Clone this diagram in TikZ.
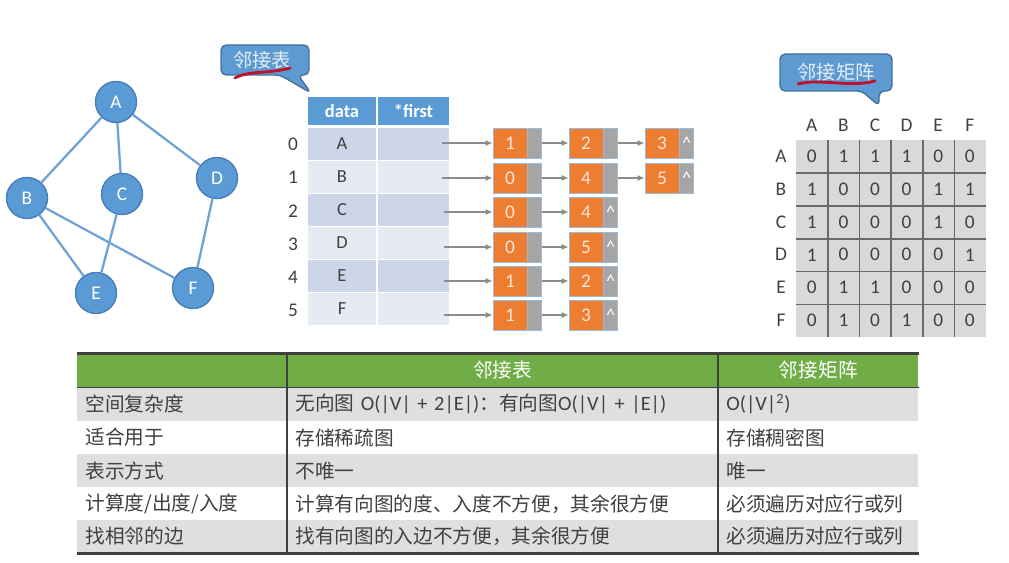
\documentclass[tikz,border=0pt]{standalone}
\usepackage{fontspec}
\setmainfont{Carlito}
\newfontfamily\cjk{Noto Sans CJK SC}
\usepackage{xcolor}
\usetikzlibrary{positioning,arrows.meta}
\definecolor{NodeBlue}{HTML}{5B9BD5}
\definecolor{NodeRim}{HTML}{4A7EBB}
\definecolor{EdgeBlue}{HTML}{6FA3D6}
\definecolor{TagBlue}{HTML}{5E9AD2}
\definecolor{TagRim}{HTML}{41719C}
\definecolor{TagText}{HTML}{E4EEF8}
\definecolor{MarkRed}{HTML}{C0102A}
\definecolor{HeadBlue}{HTML}{5B9BD5}
\definecolor{RowDark}{HTML}{CDD6E8}
\definecolor{RowLight}{HTML}{E6EAF3}
\definecolor{TextDark}{HTML}{404040}
\definecolor{NodeOrange}{HTML}{ED7D31}
\definecolor{NodeGray}{HTML}{A5A5A5}
\definecolor{CellRim}{HTML}{9DB9D8}
\definecolor{NumText}{HTML}{FBE5D6}
\definecolor{LinkGray}{HTML}{8C8C8C}
\definecolor{MatGray}{HTML}{D9D9D9}
\definecolor{GridGray}{HTML}{6A6A6A}
\definecolor{HeadGreen}{HTML}{70AD47}
\definecolor{BandGray}{HTML}{DFDFDF}
\definecolor{RuleDark}{HTML}{404040}

\newcommand{\lat}{\rmfamily\fontsize{11.6pt}{13pt}\selectfont}

\begin{document}
\begin{tikzpicture}[
	x=0.02cm, y=-0.02cm,
	% Graph vertex style
	vertex/.style={
		circle,
		fill=NodeBlue,
		draw=NodeRim,
		thick,
		minimum size=0.82cm,
		inner sep=0pt,
		text=white,
		font=\fontsize{11pt}{13pt}\selectfont
	},
	% Undirected edge style
	gedge/.style={
		draw=EdgeBlue,
		line width=1.3pt
	},
	% Speech bubble labels
	callout/.style={
		fill=TagBlue,
		draw=TagRim,
		line width=0.8pt,
		rounded corners=3pt
	},
	tagtext/.style={
		text=TagText,
		font=\cjk\fontsize{11pt}{13pt}\selectfont
	},
	scribble/.style={
		draw=MarkRed,
		line width=1.6pt,
		line cap=round
	},
	% Vertex table
	hcell/.style={
		fill=HeadBlue,
		draw=white,
		line width=0.8pt,
		minimum height=0.6cm,
		inner sep=0pt,
		text=white,
		font=\bfseries\fontsize{10.5pt}{12pt}\selectfont
	},
	cell/.style={
		draw=white,
		line width=0.8pt,
		minimum height=0.66cm,
		inner sep=0pt,
		text=TextDark,
		font=\fontsize{10.5pt}{12pt}\selectfont
	},
	dark row/.style={fill=RowDark},
	light row/.style={fill=RowLight},
	datacol/.style={minimum width=1.4cm},
	firstcol/.style={minimum width=1.46cm},
	index/.style={
		text=TextDark,
		font=\fontsize{11pt}{13pt}\selectfont
	},
	% Edge list nodes
	lnum/.style={
		fill=NodeOrange,
		draw=CellRim,
		minimum width=0.68cm,
		minimum height=0.6cm,
		inner sep=0pt,
		text=NumText,
		font=\fontsize{11pt}{13pt}\selectfont
	},
	lptr/.style={
		fill=NodeGray,
		draw=CellRim,
		minimum width=0.28cm,
		minimum height=0.6cm,
		inner sep=0pt,
		text=white,
		font=\fontsize{10.5pt}{12pt}\selectfont
	},
	link/.style={
		draw=LinkGray,
		line width=0.8pt,
		-{Latex[length=4pt,width=3.5pt]}
	},
	% Adjacency matrix
	mcell/.style={
		fill=MatGray,
		minimum width=0.632cm,
		minimum height=0.656cm,
		inner sep=0pt,
		text=TextDark,
		font=\fontsize{11pt}{13pt}\selectfont
	},
	mlabel/.style={
		text=TextDark,
		font=\fontsize{11pt}{13pt}\selectfont
	},
	grid/.style={
		draw=GridGray,
		line width=0.9pt
	},
	% Comparison table
	tcell/.style={
		anchor=west,
		minimum height=0.664cm,
		inner xsep=0.16cm,
		inner ysep=0pt,
		align=left,
		text=TextDark,
		font=\cjk\fontsize{11.2pt}{12.5pt}\selectfont
	},
	thead/.style={
		tcell,
		fill=HeadGreen,
		text=white,
		align=center
	},
	band/.style={fill=BandGray},
	plain/.style={fill=white},
	colone/.style={text width=3.88cm},
	coltwo/.style={text width=8.30cm},
	colthree/.style={text width=3.68cm},
	trule/.style={
		draw=RuleDark,
		line width=1.4pt
	},
	tsep/.style={
		draw=RuleDark,
		line width=0.7pt
	}
	]
	
	\useasboundingbox (0,0) rectangle (1009,563);
	
	% ================= GRAPH =================
	\node[vertex] (A) at (116,102) {A};
	\node[vertex] (B) at (27,198) {B};
	\node[vertex] (C) at (122,194) {C};
	\node[vertex] (D) at (217,178) {D};
	\node[vertex] (E) at (96,293) {E};
	\node[vertex] (F) at (193,288) {F};
	
	\draw[gedge] (A) -- (B);
	\draw[gedge] (A) -- (C);
	\draw[gedge] (A) -- (D);
	\draw[gedge] (B) -- (E);
	\draw[gedge] (B) -- (F);
	\draw[gedge] (C) -- (E);
	\draw[gedge] (D) -- (F);
	
	% ================= CALLOUTS =================
	\draw[callout] (265,45) -- (309,45) -- (309,75) -- (298,75) -- (311,93)
		-- (280,75) -- (221,75) -- (221,45) -- cycle;
	\node[tagtext] (tagList) at (262,60) {邻接表};
	\draw[scribble] (235,78) .. controls (250,70) and (270,74) .. (290,68);
	
	\draw[callout] (836,54) -- (892,54) -- (892,91) -- (879,91) -- (879,106)
		-- (862,91) -- (780,91) -- (780,54) -- cycle;
	\node[tagtext] (tagMatrix) at (836,72) {邻接矩阵};
	\draw[scribble] (798,84) .. controls (820,78) and (850,88) .. (875,81);
	
	% ================= VERTEX TABLE =================
	\node[hcell, datacol] (hdata) at (342,111) {data};
	\node[hcell, firstcol] (hfirst) at (413.5,111) {*first};
	
	\node[cell, datacol, dark row] (d0) at (342,144) {A};
	\node[cell, firstcol, dark row] (f0) at (413.5,144) {};
	\node[cell, datacol, light row] (d1) at (342,177) {B};
	\node[cell, firstcol, light row] (f1) at (413.5,177) {};
	\node[cell, datacol, dark row] (d2) at (342,210) {C};
	\node[cell, firstcol, dark row] (f2) at (413.5,210) {};
	\node[cell, datacol, light row] (d3) at (342,243) {D};
	\node[cell, firstcol, light row] (f3) at (413.5,243) {};
	\node[cell, datacol, dark row] (d4) at (342,276) {E};
	\node[cell, firstcol, dark row] (f4) at (413.5,276) {};
	\node[cell, datacol, light row] (d5) at (342,309) {F};
	\node[cell, firstcol, light row] (f5) at (413.5,309) {};
	
	\node[index] (i0) at (293,144) {0};
	\node[index] (i1) at (293,177) {1};
	\node[index] (i2) at (293,211) {2};
	\node[index] (i3) at (293,244) {3};
	\node[index] (i4) at (293,277) {4};
	\node[index] (i5) at (293,310) {5};
	
	% ================= EDGE LISTS =================
	\node[lnum] (a01) at (510,143) {1};
	\node[lptr, right=0pt of a01] (p01) {};
	\node[lnum] (a02) at (586,143) {2};
	\node[lptr, right=0pt of a02] (p02) {};
	\node[lnum] (a03) at (662,143) {3};
	\node[lptr, right=0pt of a03] (p03) {\textasciicircum};
	
	\node[lnum] (a11) at (510,178) {0};
	\node[lptr, right=0pt of a11] (p11) {};
	\node[lnum] (a12) at (586,178) {4};
	\node[lptr, right=0pt of a12] (p12) {};
	\node[lnum] (a13) at (662,178) {5};
	\node[lptr, right=0pt of a13] (p13) {\textasciicircum};
	
	\node[lnum] (a21) at (510,212) {0};
	\node[lptr, right=0pt of a21] (p21) {};
	\node[lnum] (a22) at (586,212) {4};
	\node[lptr, right=0pt of a22] (p22) {\textasciicircum};
	
	\node[lnum] (a31) at (510,247) {0};
	\node[lptr, right=0pt of a31] (p31) {};
	\node[lnum] (a32) at (586,247) {5};
	\node[lptr, right=0pt of a32] (p32) {\textasciicircum};
	
	\node[lnum] (a41) at (510,281) {1};
	\node[lptr, right=0pt of a41] (p41) {};
	\node[lnum] (a42) at (586,281) {2};
	\node[lptr, right=0pt of a42] (p42) {\textasciicircum};
	
	\node[lnum] (a51) at (510,315) {1};
	\node[lptr, right=0pt of a51] (p51) {};
	\node[lnum] (a52) at (586,315) {3};
	\node[lptr, right=0pt of a52] (p52) {\textasciicircum};
	
	% pointer tails inside the *first cells
	\coordinate (s0) at (442,143);
	\coordinate (s1) at (442,178);
	\coordinate (s2) at (444,212);
	\coordinate (s3) at (444,247);
	\coordinate (s4) at (444,281);
	\coordinate (s5) at (444,315);
	
	\draw[link] (s0) -- (a01);
	\draw[link] (s1) -- (a11);
	\draw[link] (s2) -- (a21);
	\draw[link] (s3) -- (a31);
	\draw[link] (s4) -- (a41);
	\draw[link] (s5) -- (a51);
	
	\draw[link] (p01) -- (a02);
	\draw[link] (p02) -- (a03);
	\draw[link] (p11) -- (a12);
	\draw[link] (p12) -- (a13);
	\draw[link] (p21) -- (a22);
	\draw[link] (p31) -- (a32);
	\draw[link] (p41) -- (a42);
	\draw[link] (p51) -- (a52);
	
	% ================= ADJACENCY MATRIX =================
	\node[mlabel] (cA) at (811.8,125) {A};
	\node[mlabel] (cB) at (843.4,125) {B};
	\node[mlabel] (cC) at (875,125) {C};
	\node[mlabel] (cD) at (906.6,125) {D};
	\node[mlabel] (cE) at (938.2,125) {E};
	\node[mlabel] (cF) at (969.8,125) {F};
	
	\node[mlabel] (rA) at (781,156.4) {A};
	\node[mlabel] (rB) at (781,189.2) {B};
	\node[mlabel] (rC) at (781,222) {C};
	\node[mlabel] (rD) at (781,254.8) {D};
	\node[mlabel] (rE) at (781,287.6) {E};
	\node[mlabel] (rF) at (781,320.4) {F};
	
	\node[mcell] (m11) at (811.8,156.4) {0}; \node[mcell] (m12) at (843.4,156.4) {1};
	\node[mcell] (m13) at (875,156.4) {1};   \node[mcell] (m14) at (906.6,156.4) {1};
	\node[mcell] (m15) at (938.2,156.4) {0}; \node[mcell] (m16) at (969.8,156.4) {0};
	
	\node[mcell] (m21) at (811.8,189.2) {1}; \node[mcell] (m22) at (843.4,189.2) {0};
	\node[mcell] (m23) at (875,189.2) {0};   \node[mcell] (m24) at (906.6,189.2) {0};
	\node[mcell] (m25) at (938.2,189.2) {1}; \node[mcell] (m26) at (969.8,189.2) {1};
	
	\node[mcell] (m31) at (811.8,222) {1}; \node[mcell] (m32) at (843.4,222) {0};
	\node[mcell] (m33) at (875,222) {0};   \node[mcell] (m34) at (906.6,222) {0};
	\node[mcell] (m35) at (938.2,222) {1}; \node[mcell] (m36) at (969.8,222) {0};
	
	\node[mcell] (m41) at (811.8,254.8) {1}; \node[mcell] (m42) at (843.4,254.8) {0};
	\node[mcell] (m43) at (875,254.8) {0};   \node[mcell] (m44) at (906.6,254.8) {0};
	\node[mcell] (m45) at (938.2,254.8) {0}; \node[mcell] (m46) at (969.8,254.8) {1};
	
	\node[mcell] (m51) at (811.8,287.6) {0}; \node[mcell] (m52) at (843.4,287.6) {1};
	\node[mcell] (m53) at (875,287.6) {1};   \node[mcell] (m54) at (906.6,287.6) {0};
	\node[mcell] (m55) at (938.2,287.6) {0}; \node[mcell] (m56) at (969.8,287.6) {0};
	
	\node[mcell] (m61) at (811.8,320.4) {0}; \node[mcell] (m62) at (843.4,320.4) {1};
	\node[mcell] (m63) at (875,320.4) {0};   \node[mcell] (m64) at (906.6,320.4) {1};
	\node[mcell] (m65) at (938.2,320.4) {0}; \node[mcell] (m66) at (969.8,320.4) {0};
	
	% inner grid lines
	\draw[grid] (m11.north east) -- (m61.south east);
	\draw[grid] (m12.north east) -- (m62.south east);
	\draw[grid] (m13.north east) -- (m63.south east);
	\draw[grid] (m14.north east) -- (m64.south east);
	\draw[grid] (m15.north east) -- (m65.south east);
	\draw[grid] (m11.south west) -- (m16.south east);
	\draw[grid] (m21.south west) -- (m26.south east);
	\draw[grid] (m31.south west) -- (m36.south east);
	\draw[grid] (m41.south west) -- (m46.south east);
	\draw[grid] (m51.south west) -- (m56.south east);
	
	% ================= COMPARISON TABLE =================
	\node[thead, colone] (h1) at (77,370.5) {};
	\node[thead, coltwo] (h2) at (287,370.5) {邻接表};
	\node[thead, colthree] (h3) at (718,370.5) {邻接矩阵};
	
	\node[tcell, colone, band] (t11) at (77,404) {空间复杂度};
	\node[tcell, coltwo, band] (t12) at (287,404) {无向图 {\lat O(|V| + 2|E|)}：有向图{\lat O(|V| + |E|)}};
	\node[tcell, colthree, band] (t13) at (718,404) {{\lat O(|V|\textsuperscript{2})}};
	
	\node[tcell, colone, plain] (t21) at (77,437.5) {适合用于};
	\node[tcell, coltwo, plain] (t22) at (287,437.5) {存储稀疏图};
	\node[tcell, colthree, plain] (t23) at (718,437.5) {存储稠密图};
	
	\node[tcell, colone, band] (t31) at (77,471) {表示方式};
	\node[tcell, coltwo, band] (t32) at (287,471) {不唯一};
	\node[tcell, colthree, band] (t33) at (718,471) {唯一};
	
	\node[tcell, colone, plain] (t41) at (77,504) {计算度/出度/入度};
	\node[tcell, coltwo, plain] (t42) at (287,504) {计算有向图的度、入度不方便，其余很方便};
	\node[tcell, colthree, plain] (t43) at (718,504) {必须遍历对应行或列};
	
	\node[tcell, colone, band] (t51) at (77,536.5) {找相邻的边};
	\node[tcell, coltwo, band] (t52) at (287,536.5) {找有向图的入边不方便，其余很方便};
	\node[tcell, colthree, band] (t53) at (718,536.5) {必须遍历对应行或列};
	
	\draw[trule] (h1.north west) -- (h3.north east);
	\draw[trule] (t51.south west) -- (t53.south east);
	\draw[tsep] (h1.south west) -- (h3.south east);
	\draw[tsep] (h2.north west) -- (t52.south west);
	\draw[tsep] (h3.north west) -- (t53.south west);
	
\end{tikzpicture}
\end{document}
